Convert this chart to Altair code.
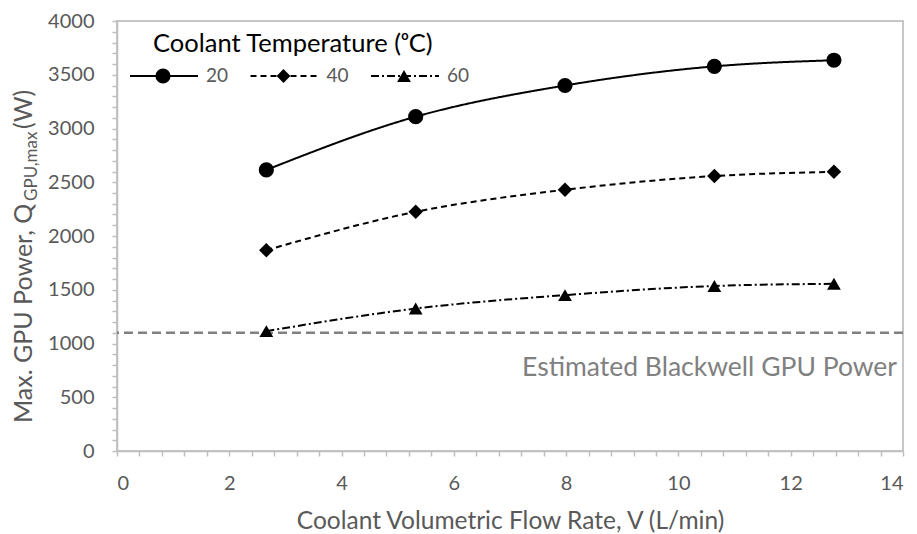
import altair as alt
import pandas as pd

# ---------------- data ----------------
flow = [2.66, 5.32, 7.98, 10.64, 12.77]
temps = ["20", "40", "60"]
q20 = [2615, 3110, 3400, 3578, 3635]
q40 = [1868, 2225, 2430, 2558, 2597]
q60 = [1115, 1325, 1450, 1535, 1555]
threshold = 1100
threshold_label = "Estimated Blackwell GPU Power"

x_major = [0, 2, 4, 6, 8, 10, 12, 14]
y_major = [0, 500, 1000, 1500, 2000, 2500, 3000, 3500, 4000]
x_minor = [round(i * 0.4, 1) for i in range(36)]
y_minor = [i * 100 for i in range(41)]

legend_title = "Coolant Temperature (ᵒC)"
x_title = "Coolant Volumetric Flow Rate, V (L/min)"
y_title_main = "Max. GPU Power, Q"
y_title_sub = "GPU,max"
y_title_end = "(W)"

rows = []
for t, vals in zip(temps, [q20, q40, q60]):
    for f, v in zip(flow, vals):
        rows.append({"temp": t, "flow": f, "power": v})
df = pd.DataFrame(rows)

FONT = "Lato, sans-serif"
GRAY = "#595959"
AX = "#bfbfbf"

shapes = ["circle", "diamond", "triangle-up"]
sizes = [230, 190, 190]
dashes = [[1, 0], [6, 4], [8, 3, 2, 3]]

x_major_expr = "indexof([" + ",".join(str(v) for v in x_major) + "], datum.value) >= 0 ? format(datum.value, 'd') : ''"
y_major_expr = "indexof([" + ",".join(str(v) for v in y_major) + "], datum.value) >= 0 ? format(datum.value, 'd') : ''"

xscale = alt.Scale(domain=[0, 14], nice=False, zero=False)
yscale = alt.Scale(domain=[0, 4000], nice=False)

xaxis = alt.Axis(values=x_minor, labelExpr=x_major_expr, labelOverlap=False,
                 tickSize=5, tickColor=AX, tickWidth=1.5, domainColor=AX, domainWidth=1.5,
                 labelColor=GRAY, labelFontSize=20, labelFont=FONT, labelBaseline="alphabetic",
                 labelPadding=33, grid=False,
                 title=x_title, titleFont=FONT, titleFontSize=24.5, titleColor=GRAY,
                 titleFontWeight="normal", titleBaseline="alphabetic", titleY=77)
yaxis = alt.Axis(values=y_minor, labelExpr=y_major_expr, labelOverlap=False,
                 tickSize=5, tickColor=AX, tickWidth=1.5, domainColor=AX, domainWidth=1.5,
                 labelColor=GRAY, labelFontSize=20, labelFont=FONT, labelPadding=18,
                 grid=False, title=None)

X = alt.X("flow:Q", scale=xscale, axis=xaxis)
Y = alt.Y("power:Q", scale=yscale, axis=yaxis)

lines = alt.Chart(df).mark_line(interpolate="monotone", color="black", strokeWidth=2).encode(
    x=X, y=Y,
    strokeDash=alt.StrokeDash("temp:N", scale=alt.Scale(domain=temps, range=dashes), legend=None),
)
points = alt.Chart(df).mark_point(filled=True, opacity=1, color="black").encode(
    x=X, y=Y,
    shape=alt.Shape("temp:N", scale=alt.Scale(domain=temps, range=shapes), legend=None),
    size=alt.Size("temp:N", scale=alt.Scale(domain=temps, range=sizes), legend=None),
)

thr_df = pd.DataFrame({"power": [threshold], "flow": [14], "label": [threshold_label]})
thr_rule = alt.Chart(thr_df).mark_rule(color="#808080", strokeWidth=2.5, strokeDash=[9, 5]).encode(y=Y)
thr_text = alt.Chart(thr_df).mark_text(align="right", baseline="middle", dx=-6, dy=35,
                                       fontSize=26.5, font=FONT, color="#808080").encode(
    x=X, y=Y, text="label:N")

# manual legend
layers = [thr_rule, lines, points, thr_text]
one = pd.DataFrame({"a": [0]})
layers.append(alt.Chart(one).mark_text(align="left", baseline="middle", fontSize=25.5, font=FONT,
                                       color="black", text=legend_title).encode(
    x=alt.value(36), y=alt.value(23)))
for i, t in enumerate(temps):
    x0 = 13 + i * 120.5
    layers.append(alt.Chart(one).mark_rule(color="black", strokeWidth=2, strokeDash=dashes[i]).encode(
        x=alt.value(x0), x2=alt.value(x0 + 68), y=alt.value(55)))
    layers.append(alt.Chart(one).mark_point(filled=True, opacity=1, color="black", shape=shapes[i],
                                            size=sizes[i]).encode(
        x=alt.value(x0 + 33), y=alt.value(55)))
    layers.append(alt.Chart(one).mark_text(align="left", baseline="middle", fontSize=19, font=FONT,
                                           color=GRAY, text=t).encode(
        x=alt.value(x0 + 76), y=alt.value(55)))

# manual y title with subscript
layers.append(alt.Chart(one).mark_text(align="left", baseline="middle", angle=270, fontSize=25,
                                       font=FONT, color=GRAY, text=y_title_main).encode(
    x=alt.value(-93), y=alt.value(402)))
layers.append(alt.Chart(one).mark_text(align="left", baseline="middle", angle=270, fontSize=17,
                                       font=FONT, color=GRAY, text=y_title_sub).encode(
    x=alt.value(-85), y=alt.value(180)))
layers.append(alt.Chart(one).mark_text(align="left", baseline="middle", angle=270, fontSize=25,
                                       font=FONT, color=GRAY, text=y_title_end).encode(
    x=alt.value(-93), y=alt.value(108)))

chart = alt.layer(*layers).properties(
    width=786, height=430,
    autosize=alt.AutoSizeParams(type="none"),
    padding={"left": 109, "top": 13, "right": 6, "bottom": 83},
).configure_view(stroke="#b4b4b4", strokeWidth=1.5)

chart.save("out.html", embed_options={"renderer": "svg", "actions": False})
